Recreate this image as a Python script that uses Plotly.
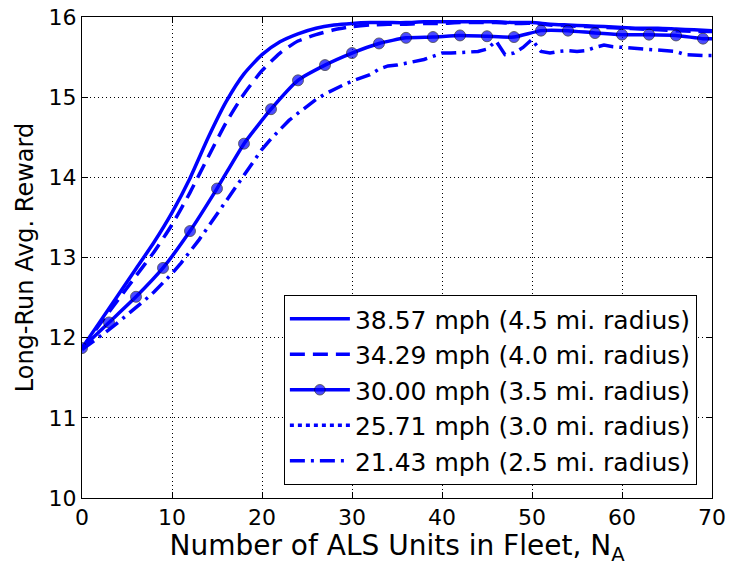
import plotly.graph_objects as go

# Fleet size (number of ALS units)
x_fine = list(range(0, 71))
x_even = list(range(0, 71, 2))
x_mark = list(range(0, 70, 3)) + [70]

# 38.57 mph (4.5 mi. radius)
r_3857 = [11.87, 12.20, 12.53, 12.86, 13.19, 13.56, 13.99, 14.49, 14.94, 15.29,
          15.53, 15.69, 15.79, 15.86, 15.90, 15.92, 15.93, 15.93, 15.93, 15.94,
          15.94, 15.94, 15.94, 15.94, 15.93, 15.93, 15.91, 15.90, 15.89, 15.88,
          15.87, 15.86, 15.86, 15.85, 15.84, 15.83]

# 34.29 mph (4.0 mi. radius)
r_3429 = [11.86, 12.17, 12.47, 12.77, 13.07, 13.41, 13.81, 14.25, 14.68, 15.04,
          15.33, 15.55, 15.70, 15.78, 15.84, 15.88, 15.90, 15.91, 15.91, 15.92,
          15.92, 15.93, 15.93, 15.93, 15.92, 15.92, 15.90, 15.89, 15.88, 15.87,
          15.86, 15.85, 15.84, 15.83, 15.82, 15.82]

# 30.00 mph (3.5 mi. radius)
r_3000 = [11.87, 12.19, 12.51, 12.87, 13.33, 13.86, 14.42, 14.85, 15.21, 15.40,
          15.55, 15.67, 15.74, 15.75, 15.77, 15.76, 15.75, 15.83, 15.83, 15.80,
          15.78, 15.78, 15.77, 15.73, 15.73]

# 25.71 mph (3.0 mi. radius) -- legend entry only
r_2571 = [None]

# 21.43 mph (2.5 mi. radius)
r_2143 = [11.85, 11.93, 12.01, 12.10, 12.19, 12.28, 12.37, 12.47, 12.57, 12.68,
          12.80, 12.93, 13.07, 13.22, 13.38, 13.54, 13.70, 13.87, 14.03, 14.19,
          14.35, 14.48, 14.60, 14.71, 14.80, 14.89, 14.97, 15.04, 15.10, 15.15,
          15.20, 15.24, 15.28, 15.35, 15.39, 15.40, 15.42, 15.44, 15.47, 15.51,
          15.55, 15.55, 15.56, 15.56, 15.57, 15.60, 15.70, 15.53, 15.55, 15.62,
          15.72, 15.57, 15.55, 15.57, 15.58, 15.57, 15.58, 15.62, 15.65, 15.63,
          15.62, 15.61, 15.60, 15.59, 15.59, 15.58, 15.57, 15.53, 15.52, 15.52,
          15.52]

labels = ["38.57 mph (4.5 mi. radius)", "34.29 mph (4.0 mi. radius)",
          "30.00 mph (3.5 mi. radius)", "25.71 mph (3.0 mi. radius)",
          "21.43 mph (2.5 mi. radius)"]

x_ticks = [0, 10, 20, 30, 40, 50, 60, 70]
y_ticks = [10, 11, 12, 13, 14, 15, 16]

BLUE = "#0000ff"
FONT = "DejaVu Sans"
LW = 3.5

fig = go.Figure()

fig.add_trace(go.Scatter(x=x_even, y=r_3857, mode="lines", name=labels[0],
                         legendgroup="a",
                         line=dict(color=BLUE, width=LW, shape="spline", smoothing=0.6)))
fig.add_trace(go.Scatter(x=x_even, y=r_3429, mode="lines", name=labels[1],
                         legendgroup="b",
                         line=dict(color=BLUE, width=LW, dash="15px,8px",
                                   shape="spline", smoothing=0.6)))
marker_sizes = [11] * (len(x_mark) - 1) + [0]
fig.add_trace(go.Scatter(x=x_mark, y=r_3000, mode="lines+markers", name=labels[2],
                         legendgroup="c",
                         line=dict(color=BLUE, width=LW, shape="spline", smoothing=0.5),
                         marker=dict(color=BLUE, size=marker_sizes,
                                     line=dict(color="black", width=0.8))))
fig.add_trace(go.Scatter(x=[None], y=r_2571, mode="lines", name=labels[3],
                         legendgroup="d",
                         line=dict(color=BLUE, width=LW, dash="4px,4px")))
fig.add_trace(go.Scatter(x=x_fine, y=r_2143, mode="lines", name=labels[4],
                         legendgroup="e",
                         line=dict(color=BLUE, width=LW, dash="15px,6px,3px,6px")))

axis_common = dict(
    showline=True, linecolor="black", linewidth=1, mirror="all",
    ticks="inside", ticklen=6, tickcolor="black",
    showgrid=True, gridcolor="black", gridwidth=1, griddash="1px,3px",
    zeroline=False, automargin=False,
    tickfont=dict(family=FONT, size=22, color="black"),
)

fig.update_xaxes(range=[0, 70], tickvals=x_ticks,
                 title=dict(text="Number of ALS Units in Fleet, N<sub>A</sub>",
                            font=dict(family=FONT, size=28, color="black"),
                            standoff=2),
                 **axis_common)
fig.update_yaxes(range=[10, 16], tickvals=y_ticks,
                 title=dict(text="Long-Run Avg. Reward",
                            font=dict(family=FONT, size=24, color="black"),
                            standoff=8),
                 **axis_common)

fig.update_layout(
    width=730, height=566,
    margin=dict(l=82, r=18, t=17, b=68),
    paper_bgcolor="white", plot_bgcolor="white",
    font=dict(family=FONT, color="black"),
    showlegend=True,
    legend=dict(x=0.976, y=0.027, xanchor="right", yanchor="bottom",
                bgcolor="white", bordercolor="black", borderwidth=1,
                font=dict(family=FONT, size=25, color="black"),
                traceorder="grouped", tracegroupgap=0,
                itemwidth=60),
)

fig.write_html("out.html")
